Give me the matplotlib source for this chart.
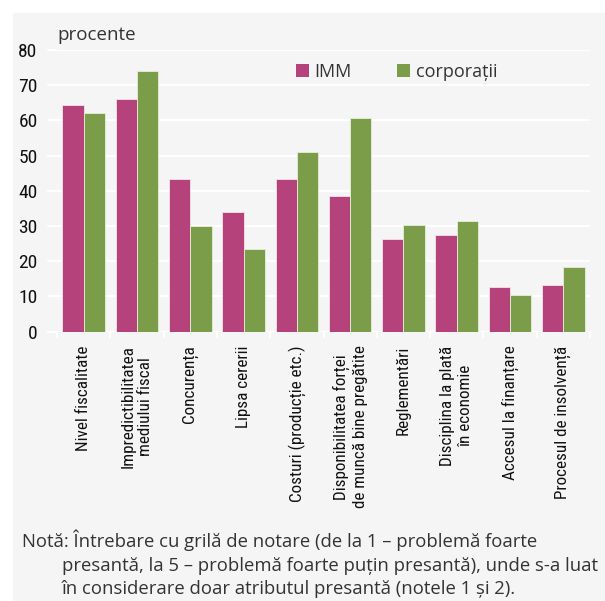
import matplotlib.pyplot as plt
from matplotlib.patches import Rectangle, Patch
import numpy as np

categories = [
    "Nivel fiscalitate",
    "Impredictibilitatea\nmediului fiscal",
    "Concurența",
    "Lipsa cererii",
    "Costuri (producție etc.)",
    "Disponibilitatea forței\nde muncă bine pregătite",
    "Reglementări",
    "Disciplina la plată\nîn economie",
    "Accesul la finanțare",
    "Procesul de insolvență",
]
imm = [64.5, 66, 43.5, 34, 43.5, 38.4, 26.4, 27.5, 12.7, 13.3]
corporatii = [62, 74, 30, 23.6, 51, 60.6, 30.4, 31.5, 10.4, 18.4]
y_ticks = [0, 10, 20, 30, 40, 50, 60, 70, 80]

imm_color = "#b5427a"
corp_color = "#7b9c48"
bg = "#f5f5f5"
plain = ["Open Sans", "DejaVu Sans"]
narrow = ["Roboto Condensed", "Open Sans Condensed", "Roboto", "DejaVu Sans"]

fig = plt.figure(figsize=(6.05, 6.01), dpi=100, facecolor="white")
# grey panel behind everything
fig.patches.append(Rectangle((13 / 605, 0), 1, 1 - 13 / 601, transform=fig.transFigure,
                             facecolor=bg, edgecolor="none", zorder=-10))

ax = fig.add_axes([57 / 605, 269.3 / 601, 533 / 605, 281.7 / 601])
ax.set_facecolor(bg)

x = np.arange(len(categories))
w = 0.4
ax.bar(x - w / 2, imm, w, color=imm_color, edgecolor="#f3e3ea", linewidth=0.6, zorder=3)
ax.bar(x + w / 2, corporatii, w, color=corp_color, edgecolor="#e6efd9", linewidth=0.6, zorder=3)

ax.set_xlim(-0.5, len(categories) - 0.5)
ax.set_ylim(0, 80)
ax.set_yticks(y_ticks)
ax.set_yticklabels([str(v) for v in y_ticks], family=narrow, fontsize=14, color="#111111")
ax.grid(axis="y", color="white", linewidth=1.3, zorder=0)
for s in ax.spines.values():
    s.set_visible(False)
ax.tick_params(axis="y", length=7, width=1.3, color="white", pad=7)

ax.set_xticks(x)
ax.set_xticklabels(categories, rotation=90, ha="center", va="top", multialignment="center",
                   family=narrow, fontsize=12.3, color="#111111", linespacing=1.25)
ax.set_xticks(np.arange(-0.5, len(categories)), minor=True)
ax.tick_params(axis="x", which="major", length=0, pad=10)
ax.tick_params(axis="x", which="minor", length=4, width=1.3, color="white", direction="out")

ax.text(0.0, 1.02, "procente", transform=ax.transAxes, family=plain, fontsize=13.5,
        color="#333333", ha="left", va="bottom")

handles = [Patch(facecolor=imm_color, edgecolor="none"), Patch(facecolor=corp_color, edgecolor="none")]
ax.legend(handles, ["IMM", "corporații"], loc="upper left", bbox_to_anchor=(0.417, 1.012),
          ncol=2, frameon=False, handlelength=0.75, handleheight=0.75, handletextpad=0.3,
          columnspacing=2.5, prop={"family": plain, "size": 13}, labelcolor="#333333")

note_kw = dict(family=plain, fontsize=13.3, color="#333333", va="baseline")
fig.text(22 / 605, 1 - 547 / 601, "Notă: Întrebare cu grilă de notare (de la 1 – problemă foarte", **note_kw)
fig.text(62 / 605, 1 - 571 / 601, "presantă, la 5 – problemă foarte puțin presantă), unde s-a luat", **note_kw)
fig.text(62 / 605, 1 - 594 / 601, "în considerare doar atributul presantă (notele 1 și 2).", **note_kw)

plt.savefig("out.png", dpi=100, facecolor=fig.get_facecolor())
